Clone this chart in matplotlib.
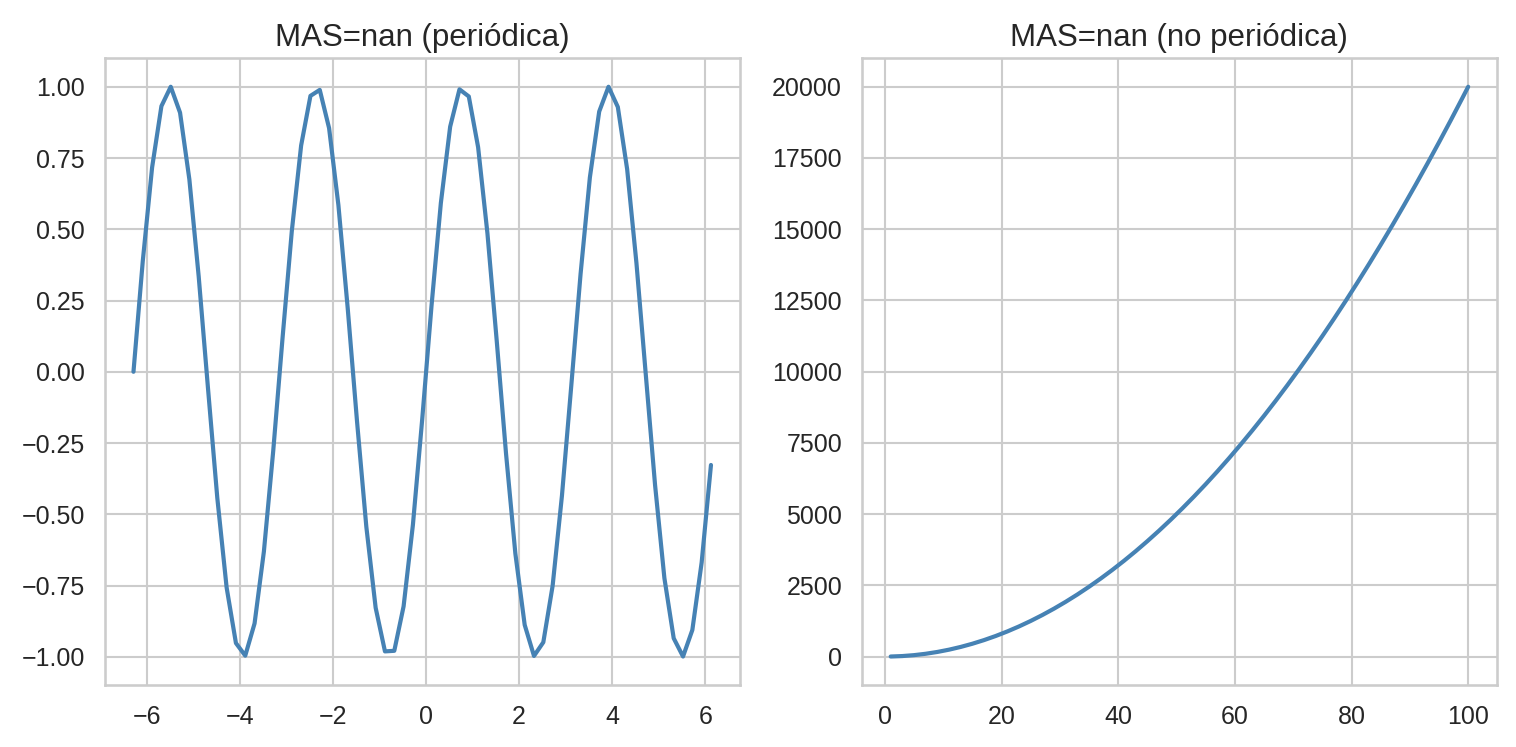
import matplotlib
matplotlib.use("Agg")
import matplotlib.pyplot as plt
import seaborn as sns

sns.set_theme(style="whitegrid")
plt.rcParams['font.family'] = ['Liberation Sans', 'DejaVu Sans']

title_left = "MAS=nan (periódica)"
title_right = "MAS=nan (no periódica)"

x_left = [-6.28, -6.08, -5.88, -5.68, -5.48, -5.28, -5.08, -4.88, -4.68, -4.48,
          -4.28, -4.08, -3.88, -3.68, -3.48, -3.28, -3.08, -2.88, -2.68, -2.48,
          -2.28, -2.08, -1.88, -1.68, -1.48, -1.28, -1.08, -0.88, -0.68, -0.48,
          -0.28, -0.08, 0.12, 0.32, 0.52, 0.72, 0.92, 1.12, 1.32, 1.52,
          1.72, 1.92, 2.12, 2.32, 2.52, 2.72, 2.92, 3.12, 3.32, 3.52,
          3.72, 3.92, 4.12, 4.32, 4.52, 4.72, 4.92, 5.12, 5.32, 5.52,
          5.72, 5.92, 6.12]
y_left = [0.0, 0.389, 0.717, 0.932, 1.0, 0.909, 0.675, 0.335, -0.058, -0.443,
          -0.757, -0.952, -0.996, -0.883, -0.631, -0.279, 0.117, 0.494, 0.794, 0.968,
          0.989, 0.855, 0.585, 0.223, -0.174, -0.544, -0.828, -0.981, -0.979, -0.823,
          -0.537, -0.166, 0.232, 0.592, 0.860, 0.991, 0.966, 0.788, 0.486, 0.108,
          -0.288, -0.638, -0.888, -0.997, -0.949, -0.751, -0.435, -0.050, 0.343, 0.682,
          0.913, 1.0, 0.929, 0.711, 0.381, -0.009, -0.398, -0.724, -0.935, -0.999,
          -0.906, -0.669, -0.327]

x_right = [1, 3, 5, 7, 9, 11, 13, 15, 17, 19, 21, 23, 25, 27, 29, 31, 33, 35, 37, 39,
           41, 43, 45, 47, 49, 51, 53, 55, 57, 59, 61, 63, 65, 67, 69, 71, 73, 75, 77, 79,
           81, 83, 85, 87, 89, 91, 93, 95, 97, 99, 100]
y_right = [2, 18, 50, 98, 162, 242, 338, 450, 578, 722, 882, 1058, 1250, 1458, 1682,
           1922, 2178, 2450, 2738, 3042, 3362, 3698, 4050, 4418, 4802, 5202, 5618, 6050,
           6498, 6962, 7442, 7938, 8450, 8978, 9522, 10082, 10658, 11250, 11858, 12482,
           13122, 13778, 14450, 15138, 15842, 16562, 17298, 18050, 18818, 19602, 20000]

fig, axes = plt.subplots(1, 2, figsize=(1516/150, 747/150), dpi=150)
axes[0].plot(x_left, y_left, color="steelblue", linewidth=2)
axes[0].set_title(title_left, fontsize=15)
axes[1].plot(x_right, y_right, color="steelblue", linewidth=2)
axes[1].set_title(title_right, fontsize=15)
for ax in axes:
    ax.tick_params(labelsize=12)
fig.subplots_adjust(left=0.069, right=0.9875, top=0.922, bottom=0.083, wspace=0.192)
fig.savefig("out.png", dpi=150)
